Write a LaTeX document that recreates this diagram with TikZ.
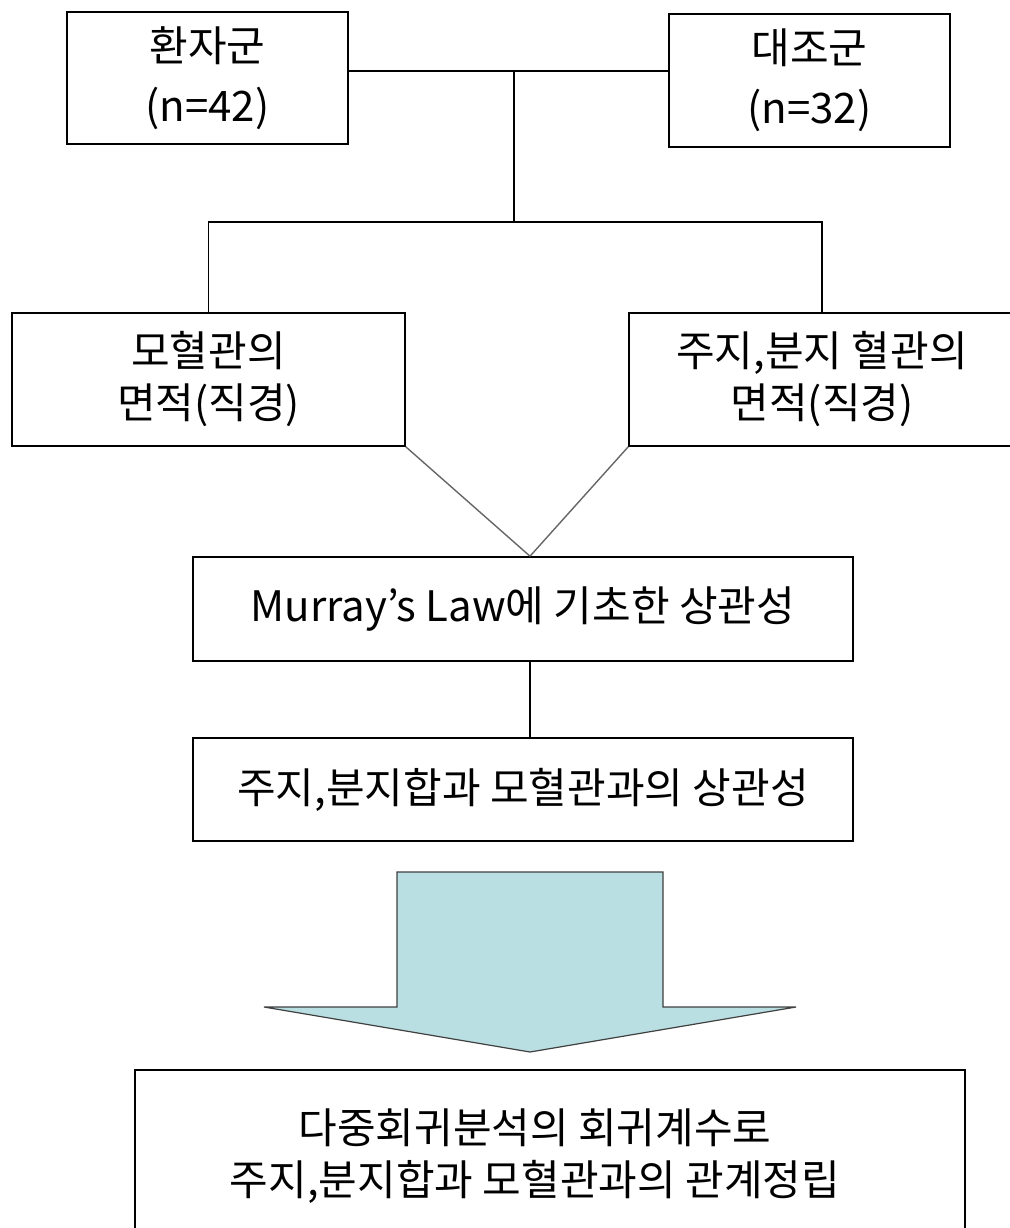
\documentclass[tikz,border=0pt]{standalone}
\usepackage{fontspec}
\newfontfamily\krfont{Noto Sans CJK KR}
\usetikzlibrary{calc}
\definecolor{arrowfill}{HTML}{B9DFE2}
\begin{document}
\begin{tikzpicture}[x=1pt,y=-1pt,
  box/.style={draw=black,line width=1.6pt,rectangle,inner sep=0pt,align=center,
    font=\krfont\fontsize{42}{52}\selectfont},
  link/.style={draw=black,line width=1.4pt},
  glink/.style={draw=black!60,line width=1.4pt},
  lbl/.style={inner sep=0pt,align=center,font=\krfont\fontsize{42}{52}\selectfont}]
\useasboundingbox (0,0) rectangle (1009,1228);
% top row
\node[box,minimum width=281pt,minimum height=132pt,font=\krfont\fontsize{42}{60}\selectfont] (g1) at (207.5,78) {환자군\\(n=42)};
\node[box,minimum width=281pt,minimum height=133pt,font=\krfont\fontsize{42}{60}\selectfont] (g2) at (809.5,80.5) {대조군\\(n=32)};
% second row
\node[box,minimum width=393pt,minimum height=133pt] (b1) at (208.5,379.5) {모혈관의\\면적(직경)};
\node[box,minimum width=386pt,minimum height=133pt] (b2) at (822,379.5) {주지,분지 혈관의\\면적(직경)};
% middle
\node[box,minimum width=660pt,minimum height=104pt] (m) at (523,609) {Murray’s Law에 기초한 상관성};
\node[box,minimum width=660pt,minimum height=103pt] (h) at (523,789.5) {주지,분지합과 모혈관과의 상관성};
% final
\node[box,minimum width=830pt,minimum height=190pt] (f) at (550,1165) {};
\node[lbl] (ft) at (535,1156) {다중회귀분석의 회귀계수로\\주지,분지합과 모혈관과의 관계정립};
% junctions
\coordinate (j1) at (514,71);
\coordinate (j2) at (514,222);
\coordinate (mid) at (530,0);
\draw[link] (j1 -| g1.east) -- (j1 -| g2.west);
\draw[link] (j1) -- (j2);
\draw[link] (b1.north) |- (j2) -| (b2.north);
\draw[glink] (b1.south east) -- (m.north -| mid);
\draw[glink] (b2.south west) -- (m.north -| mid);
\draw[link] (m.south -| mid) -- (h.north -| mid);
% block arrow
\filldraw[fill=arrowfill,draw=black!75,line width=1.2pt,line join=miter]
  (397,872) -- (663,872) -- (663,1007) -- (796,1007) -- (530,1052) -- (264,1007) -- (397,1007) -- cycle;
\end{tikzpicture}
\end{document}
